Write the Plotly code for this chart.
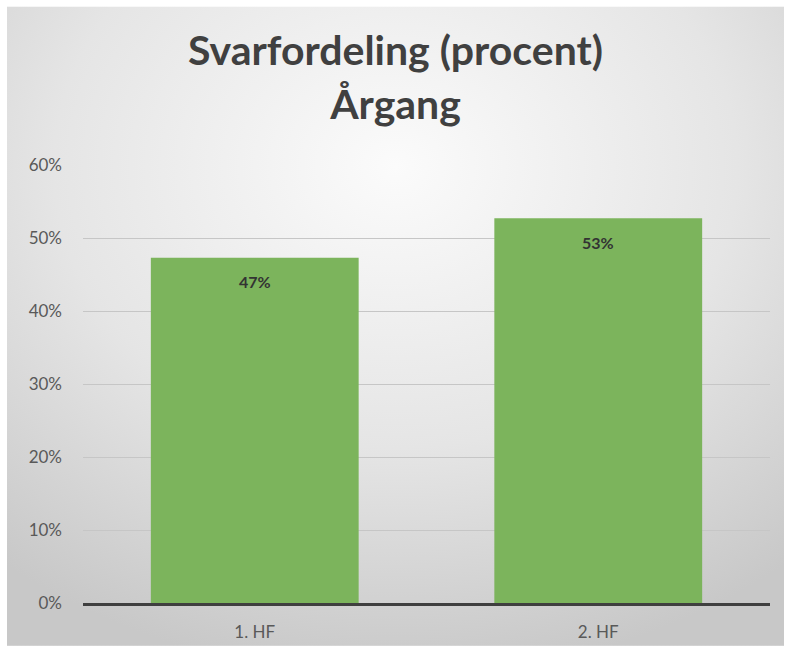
import base64
import plotly.graph_objects as go

# data
categories = ["1. HF", "2. HF"]
shares = [47.3, 52.7]
y_ticks = [0, 10, 20, 30, 40, 50, 60]
y_tick_labels = ["0%", "10%", "20%", "30%", "40%", "50%", "60%"]

W, H = 791, 654
ml, mr, mt, mb = 83, 21, 165, 49
pw, ph = W - ml - mr, H - mt - mb

# radial grey background like the office chart style
svg = f"""<svg xmlns='http://www.w3.org/2000/svg' width='{W}' height='{H}' viewBox='0 0 {W} {H}'>
<defs><radialGradient id='g' cx='50%' cy='25%' r='80%'>
<stop offset='0' stop-color='#fbfbfb'/><stop offset='0.55' stop-color='#e5e5e5'/><stop offset='1' stop-color='#c8c8c8'/>
</radialGradient></defs>
<rect width='{W}' height='{H}' fill='#ffffff'/>
<rect x='7' y='6' width='{W-14}' height='{H-12}' fill='url(#g)'/>
</svg>"""
bg = "data:image/svg+xml;base64," + base64.b64encode(svg.encode()).decode()

fig = go.Figure(go.Bar(
    x=categories, y=shares,
    marker=dict(color="#7cb45c", line=dict(width=0)),
    hoverinfo="x+y",
))

# value labels inside the top of each bar
for c, v in zip(categories, shares):
    fig.add_annotation(x=c, y=v, text=f"<b>{v:.0f}%</b>", showarrow=False,
                       yanchor="middle", yshift=-24,
                       font=dict(family="Lato", size=16, color="#333333"))

fig.update_layout(
    width=W, height=H,
    margin=dict(l=ml, r=mr, t=mt, b=mb),
    paper_bgcolor="rgba(0,0,0,0)", plot_bgcolor="rgba(0,0,0,0)",
    bargap=0.395,
    showlegend=False,
    title=dict(text="<b>Svarfordeling (procent)</b><br><b>Årgang</b>",
               x=0.5, xanchor="center", y=0.9, yanchor="middle",
               font=dict(family="Lato", size=41, color="#404040")),
    images=[dict(source=bg, xref="paper", yref="paper",
                 x=-ml / pw, y=1 + mt / ph, sizex=W / pw, sizey=H / ph,
                 xanchor="left", yanchor="top", sizing="stretch", layer="below")],
)
fig.update_yaxes(range=[0, 60], tickvals=y_ticks, ticktext=y_tick_labels,
                 showgrid=True, gridcolor="#c6c6c6", gridwidth=1,
                 zeroline=False, showline=False, ticks="",
                 ticklabelstandoff=20,
                 tickfont=dict(family="Lato", size=17, color="#595959"))
fig.update_xaxes(showline=True, linecolor="#3f3f3f", linewidth=3, ticks="",
                 ticklabelstandoff=12,
                 tickfont=dict(family="Lato", size=17, color="#595959"))

fig.write_html("out.html", config={"displayModeBar": False},
               post_script="document.body.style.margin='0';")
